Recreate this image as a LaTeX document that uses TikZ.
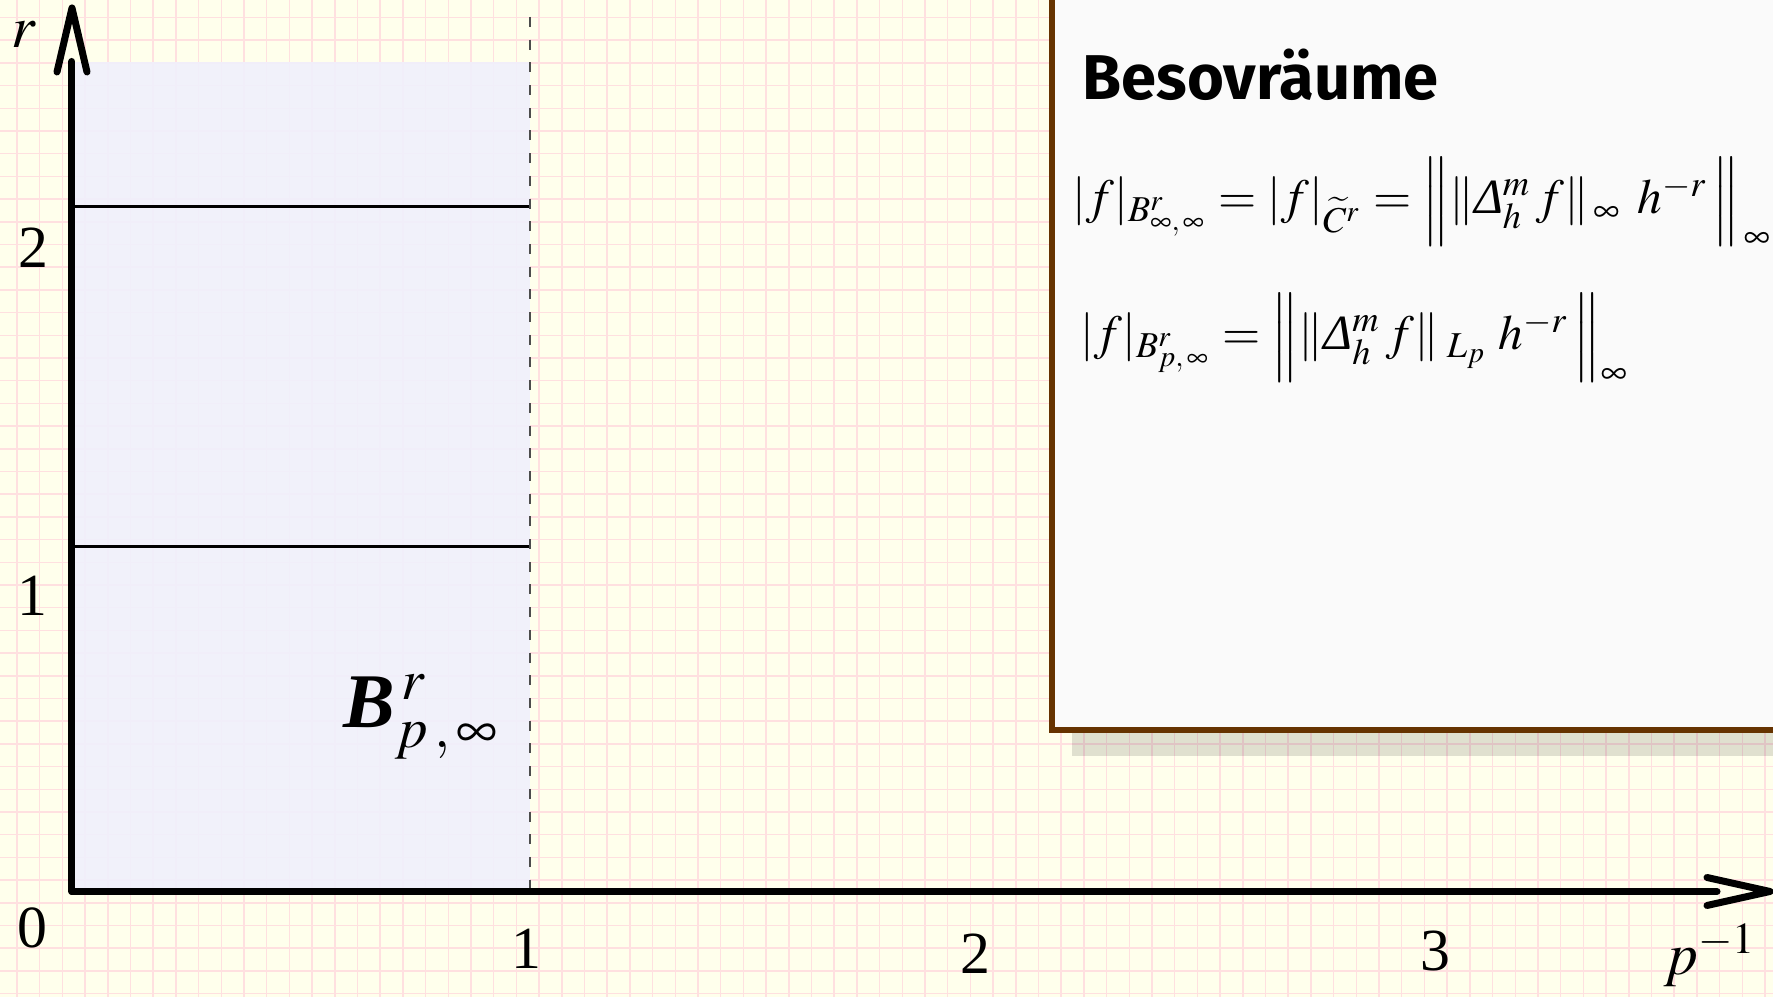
\documentclass[tikz,border=0pt]{standalone}
\usepackage{mathptmx}
\usepackage[no-math]{fontspec}
\setmainfont{Liberation Serif}
\newfontfamily\titlefont{Fira Sans}
\usetikzlibrary{arrows.meta,positioning}
\definecolor{paperyellow}{RGB}{255,255,236}
\definecolor{gridpink}{RGB}{255,224,224}
\definecolor{regionblue}{RGB}{240,240,252}
\definecolor{boxbrown}{RGB}{102,51,0}
\definecolor{boxwhite}{RGB}{250,250,250}
\newcommand{\itDelta}{\mathord{\textit{Δ}}}

\begin{document}
\begin{tikzpicture}[
  axis/.style={line width=0.07cm, line cap=round, line join=round},
  level/.style={line width=0.03cm},
  ticklabel/.style={font=\fontsize{17}{20}\selectfont, inner sep=0pt},
  formula/.style={anchor=base west, inner sep=0pt, font=\fontsize{14}{17}\selectfont}
]
\useasboundingbox (-0.72,-1.055) rectangle (17.01,8.915);
\clip (-0.72,-1.055) rectangle (17.01,8.915);
\fill[paperyellow] (-0.72,-1.055) rectangle (17.01,8.915);
\begin{scope}[shift={(0.131,0.114)}]
  \draw[gridpink, line width=0.015cm, step=0.227] (-1,-1.4) grid (17.2,9.2);
\end{scope}

% region p^{-1} < 1
\fill[regionblue, fill opacity=0.9] (0,0) rectangle (4.58,8.295);
\coordinate (O) at (0,0);
\coordinate (ytop) at (0,8.3);
\coordinate (xend) at (16.45,0);
\coordinate (one) at (4.58,0);
\draw[level] (0,3.445) -- (4.58,3.445);
\draw[level] (0,6.845) -- (4.58,6.845);
\draw[black!70, line width=0.015cm, dash pattern=on 0.1cm off 0.127cm] (4.58,8.745) -- (one);

% axes
\draw[axis] (O) -- (ytop);
\draw[axis] (-0.15,8.195) -- (0,8.835) -- (0.15,8.195);
\draw[axis] (O) -- (xend);
\draw[axis] (16.35,0.14) -- (16.98,0) -- (16.35,-0.14);

\node[ticklabel] (l0) at (-0.395,-0.36) {0};
\node[ticklabel] (ly1) at (-0.40,2.955) {1};
\node[ticklabel] (ly2) at (-0.385,6.435) {2};
\node[ticklabel] (lx1) at (4.54,-0.575) {1};
\node[ticklabel] (lx2) at (9.03,-0.62) {2};
\node[ticklabel] (lx3) at (13.63,-0.6) {3};
\node[ticklabel] (lr) at (-0.48,8.565) {$r$};
\node[ticklabel, anchor=base] (lp) at (16.38,-0.835) {$p^{-1}$};

\node[anchor=base west, inner sep=0pt, font=\fontsize{22}{26}\selectfont] (bspace) at (2.71,1.635)
  {$\textbf{\textit{B}}^{\,r}_{p\,,\,\infty}$};

% info box
\fill[black, opacity=0.12] (10.0,1.355) rectangle (17.4,9.3);
\draw[boxbrown, fill=boxwhite, line width=0.06cm] (9.8,1.615) rectangle (17.5,9.5);
\node[anchor=base west, inner sep=0pt, font=\titlefont\bfseries\fontsize{18}{21}\selectfont] (title) at (10.10,7.915) {Besovräume};
\node[formula] (f1) at (10.0,6.775)
  {$|f|_{B^{r}_{\infty,\,\infty}} = |f|_{\widetilde{C}^{r}} = \Big\|\|\itDelta^{m}_{h}\, f\|_{\,\infty}\;\, h^{-r}\,\Big\|_{\,\infty}$};
\node[formula] (f2) at (10.08,5.415)
  {$|f|_{B^{r}_{p,\,\infty}} = \Big\|\|\itDelta^{m}_{h}\, f\|_{\;L_{p}}\; h^{-r}\,\Big\|_{\infty}$};
\end{tikzpicture}
\end{document}
